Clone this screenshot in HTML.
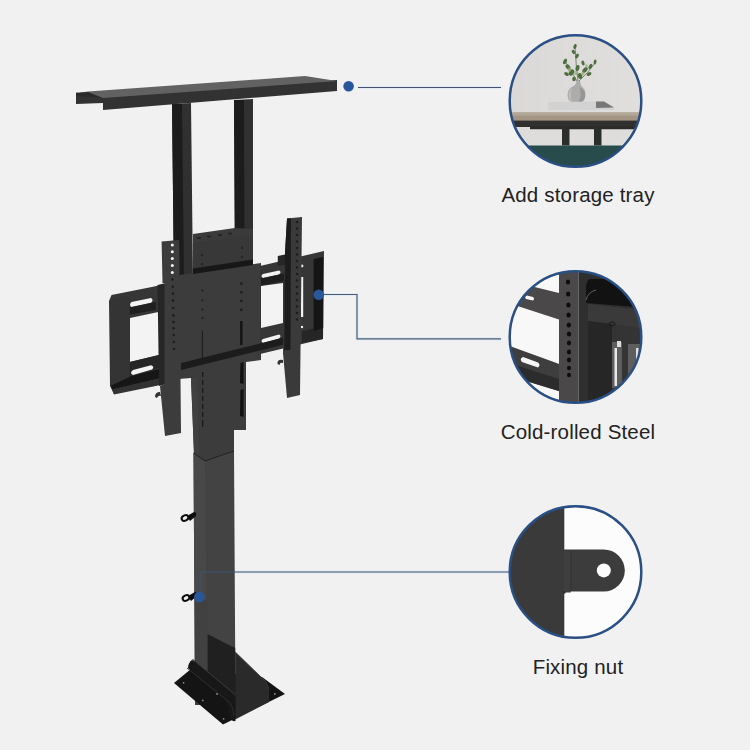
<!DOCTYPE html>
<html><head><meta charset="utf-8">
<style>
html,body{margin:0;padding:0;}
body{width:750px;height:750px;background:#f1f1f1;position:relative;overflow:hidden;font-family:"Liberation Sans",sans-serif;}
svg{position:absolute;left:0;top:0;}
.lbl{position:absolute;left:478px;width:200px;text-align:center;font-size:20.5px;letter-spacing:0.17px;color:#222;white-space:nowrap;}
</style></head><body>
<svg width="750" height="750" viewBox="0 0 750 750">
<defs>
  <clipPath id="c1"><circle cx="575.5" cy="101" r="66"/></clipPath>
  <clipPath id="c2"><circle cx="575.5" cy="337" r="66"/></clipPath>
  <clipPath id="c3"><circle cx="575.5" cy="572" r="66"/></clipPath>
  <linearGradient id="wall" x1="0" y1="0" x2="1" y2="0">
    <stop offset="0" stop-color="#dad9d7"/><stop offset="1" stop-color="#e0dfdd"/>
  </linearGradient>
</defs>

<!-- ============ PRODUCT ============ -->
<g id="product">
  <!-- uprights -->
  <polygon points="172,104 191,103 193,281 174,281" fill="#303030"/>
  <polygon points="172,104 182,104 184,281 174,281" fill="#1c1c1c"/>
  <polygon points="234,100 253,99 253,264 235,264" fill="#303030"/>
  <polygon points="234,100 244,100 244.5,264 235,264" fill="#1c1c1c"/>

  <!-- tray -->
  <polygon points="76,92.5 103,97 337,80 337,91 103,110 103,103 76,104" fill="#323232"/>
  <polygon points="76,93 88,91.5 305,76 337,81 103,98" fill="#626262"/>
  <polygon points="76,93 88,92 103,98 76,96" fill="#2a2a2a"/>

  <!-- motor housing -->
  <polygon points="193,242 253,233 253,263 193,272" fill="#383838"/>
  <polygon points="193,234 235,228 253,229 253,234.5 193,243.5" fill="#3b3b3b"/>
  <g fill="#222">
    <ellipse cx="199" cy="238" rx="2" ry="1"/><ellipse cx="209" cy="236.5" rx="2" ry="1"/>
    <ellipse cx="220" cy="235" rx="2" ry="1"/><ellipse cx="230" cy="233.5" rx="2" ry="1"/>
  </g>
  <g fill="#262626">
    <circle cx="202" cy="255" r="1.2"/><circle cx="202" cy="264" r="1.2"/>
    <circle cx="242" cy="248" r="1.2"/><circle cx="242" cy="257" r="1.2"/>
  </g>

  <!-- central plate -->
  <polygon points="166,277 261,263 261,360 246,362 246,430 234,430 234,462 205,462 194,455 191,378 166,380" fill="#3c3c3c"/>
  <polygon points="193,268.5 253,259.5 253,265 193,274" fill="#171717"/>
  <g fill="#1f1f1f">
    <circle cx="202.4" cy="290.7" r="1.1"/><circle cx="202.4" cy="300.3" r="1.1"/><circle cx="202.4" cy="309.3" r="1.1"/><circle cx="202.4" cy="317.9" r="1.1"/>
    <rect x="201.8" y="331" width="1.2" height="30"/>
    <circle cx="241.3" cy="283.7" r="1.4"/><circle cx="241.3" cy="292.3" r="1.4"/><circle cx="241.3" cy="300.8" r="1.4"/><circle cx="241.3" cy="309.9" r="1.4"/>
    <rect x="240.2" y="321" width="2.3" height="24" fill="#111"/>
  </g>
  <g fill="#1a1a1a">
    <rect x="202" y="372" width="1.3" height="5"/><rect x="202" y="380" width="1.3" height="5"/><rect x="202" y="388" width="1.3" height="5"/>
    <rect x="202" y="396" width="1.3" height="5"/><rect x="202" y="404" width="1.3" height="5"/><rect x="202" y="412" width="1.3" height="5"/>
    <rect x="202" y="420" width="1.3" height="7"/>
    <path d="M240.5,363 L243.5,362 L243.5,384 L240,383 Z" fill="#111"/>
    <path d="M240.5,390 L243.5,389 L243.5,417 L240,416 Z" fill="#111"/>
  </g>
  <polygon points="191,378 197,378 199,455 194,453" fill="#404040"/>

  <!-- left frame -->
  <polygon points="109,301 111.5,295 153,286.7 166,284 166,378 114,394 110,386" fill="#363636"/>
  <polygon points="130,318 163,311 163,354 130,362" fill="#f3f3f3"/>
  <path d="M131.5,302 L151,298 Q154,300 151,302.8 L131.5,307 Q128.5,305 131.5,302 Z" fill="#f3f3f3"/>
  <polygon points="129.6,307.5 156,302 156,310 129.6,314.5" fill="#202020"/>
  <polygon points="129.6,362 163,354 163,367 129.6,375.5" fill="#262626"/>
  <path d="M133,370 L151,365.2 Q155,366.5 152,369.5 L133,375 Q129,373 133,370 Z" fill="#f3f3f3"/>
  <polygon points="110,382 129.6,376.5 163,368 163,377.5 112,389.5" fill="#161616"/>
  <polygon points="112,389.5 163,377.5 163,384.5 114,394.5" fill="#323232"/>
  <polygon points="110,300 129.6,296 129.6,377 110,386" fill="#343434"/>

  <!-- right frame -->
  <polygon points="260,266 324,251 323,339 260,354" fill="#363636"/>
  <polygon points="261,286 283,283 283,323 261,328" fill="#f3f3f3"/>
  <path d="M263,274 L279,270.5 Q282,272 279,274.5 L263,278 Q260,276 263,274 Z" fill="#f3f3f3"/>
  <path d="M263,339 L279,334.5 Q282,336 279,338.5 L263,343 Q260,341 263,339 Z" fill="#f3f3f3"/>
  <polygon points="261,278.5 284,273.5 284,281 261,285.5" fill="#1e1e1e"/>
  
  <polygon points="302,331 323,327 323,339 302,343" fill="#262626"/>
  <polygon points="313.6,259 323.2,257 323.2,328 313.6,331" fill="#151515"/>
  <rect x="301" y="277" width="2.2" height="40" fill="#f3f3f3"/>
  <circle cx="302" cy="266" r="1.4" fill="#f3f3f3"/>
  <circle cx="302" cy="327" r="1.2" fill="#f3f3f3"/>

  <!-- bottom rail across plate -->
  <polygon points="181,363 286,337 286,344 181,370" fill="#1c1c1c"/>

  <!-- left VESA arm -->
  <polygon points="157.5,285 166,283 166,384 159,386" fill="#262626"/>
  <polygon points="161.6,241.4 179.2,240 181,433 165,436 160,386 164.5,384 164.5,283 162.5,283" fill="#3c3c3c"/>
  <path d="M160,392 Q155,392 155,397 L157,398 Q158,395 161,396 Z" fill="#333"/>
  <g fill="#f3f3f3">
    <circle cx="172.3" cy="245" r="1.5"/><circle cx="172.3" cy="251.7" r="1.5"/><circle cx="172.3" cy="258.5" r="1.5"/>
    <circle cx="172.3" cy="265.6" r="1.5"/><circle cx="172.3" cy="272.6" r="1.5"/>
  </g>
  <g fill="#1e1e1e">
    <circle cx="172.5" cy="279.5" r="1.3"/><circle cx="172.8" cy="286.7" r="1.3"/><circle cx="173" cy="293.6" r="1.3"/>
    <circle cx="173" cy="300.5" r="1.3"/><circle cx="173.2" cy="308" r="1.3"/><circle cx="173.3" cy="315.5" r="1.3"/>
    <circle cx="173.5" cy="322" r="1.3"/><circle cx="173.5" cy="328.3" r="1.3"/><circle cx="173.7" cy="335" r="1.2"/>
    <circle cx="173.8" cy="342" r="1.2"/><circle cx="174" cy="349" r="1.2"/>
  </g>

  <!-- right VESA arm -->
  <polygon points="287,218.6 302,217 300,395 287,398 283,353 285,253" fill="#3a3a3a"/>
  <polygon points="287,218.6 291,218.2 290.5,350 284.2,350 285,253" fill="#1c1c1c"/>
  <polygon points="277.8,256 285,254.5 285,265 277.8,266" fill="#262626"/>
  <path d="M283,360 Q277,359 277.5,364 L279.5,365 Q280,362 283,363 Z" fill="#333"/>
  <g fill="#1e1e1e">
    <circle cx="297" cy="222" r="1.3"/><circle cx="297" cy="228.5" r="1.3"/><circle cx="297" cy="235" r="1.3"/>
    <circle cx="297" cy="241.5" r="1.3"/><circle cx="297" cy="248" r="1.3"/><circle cx="297" cy="254.5" r="1.3"/>
    <circle cx="297" cy="261" r="1.3"/><circle cx="297" cy="267.5" r="1.3"/><circle cx="297" cy="274" r="1.3"/>
    <circle cx="297" cy="280.5" r="1.3"/><circle cx="297" cy="287" r="1.3"/><circle cx="297" cy="293.5" r="1.3"/>
    <circle cx="297" cy="300" r="1.3"/><circle cx="297" cy="306.5" r="1.3"/><circle cx="297" cy="313" r="1.3"/>
    <circle cx="297" cy="319.5" r="1.3"/>
  </g>

  <!-- lower post -->
  <polygon points="193.5,453 205,461 234,451 235.5,705 195,705" fill="#434343"/>
  <polygon points="193.5,453 205,461 207.5,705 195,705" fill="#484848"/>
  <polyline points="193.5,453 205,461 234,451" fill="none" stroke="#222" stroke-width="1"/>
  <polygon points="195,600 207,600 207.6,705 195,705" fill="#3e3e3e" opacity="0.6"/>

  <!-- base -->
  <polygon points="174,683 191,669 262,677 285,694 223,724.5" fill="#141414"/>
  <polygon points="235.2,652 266,682 269,689 269,702 235.2,719.6" fill="#2a2a2a"/>
  <polyline points="235.2,652 266,682 269,689" fill="none" stroke="#383838" stroke-width="1"/>
  <polygon points="207.6,634 221,641 235.2,648 235.2,697 207.6,672" fill="#202020"/>
  <path d="M188,668 Q188,662 193,660 L235.5,695 L235.5,721 Q231,722 229,716 L228,708 Q226,700 220,696 Z" fill="#181818"/>
  <polyline points="190,662 193,659.5 235.5,695" fill="none" stroke="#3a3a3a" stroke-width="1"/>
  <path d="M187,668 L229,702 Q233,706 234,716" fill="none" stroke="#2e2e2e" stroke-width="1"/>
  <g fill="#8a8a8a">
    <circle cx="183.6" cy="682.8" r="0.9"/><circle cx="202.8" cy="700.4" r="0.9"/><circle cx="217" cy="694" r="0.9"/>
    <circle cx="223.6" cy="718.8" r="0.9"/><circle cx="274.8" cy="694" r="0.9"/>
  </g>

  <!-- fixing nuts -->
  <g fill="none" stroke="#0d0d0d" stroke-width="2">
    <ellipse cx="185" cy="518" rx="3.5" ry="2.6" transform="rotate(-25 185 518)"/>
    <ellipse cx="186" cy="598" rx="3.5" ry="2.6" transform="rotate(-25 186 598)"/>
  </g>
  <path d="M187,516 L194,512 Q197,512 196,516 L190,521 Z" fill="#0d0d0d"/>
  <path d="M188,596 L195,592 Q198,592 197,596 L191,601 Z" fill="#0d0d0d"/>
</g>

<!-- ============ CALLOUT LINES ============ -->
<g fill="none" stroke-width="3.2" stroke="#e2eaf5">
  <polyline points="358,87.5 501,87.5"/>
  <polyline points="324,294.5 357,294.5 357,338.8 501,338.8"/>
  <polyline points="509,572 235,572"/>
</g>
<g fill="none" stroke-width="1.2">
  <polyline points="358,87.5 501,87.5" stroke="#45546c"/>
  <polyline points="324,294.5 357,294.5 357,338.8 501,338.8" stroke="#475b73"/>
  <polyline points="201,592 201,572 509,572" stroke="#3a5473"/>
</g>
<g fill="#2a579a">
  <circle cx="348.6" cy="86.3" r="5.3"/>
  <circle cx="318.7" cy="294.7" r="5.3"/>
  <circle cx="199.3" cy="596.9" r="5.3"/>
</g>

<!-- ============ CIRCLE 1 ============ -->
<g clip-path="url(#c1)">
  <rect x="505" y="30" width="145" height="145" fill="url(#wall)"/>
  <!-- plant -->
  <g stroke="#50683f" stroke-width="0.7" fill="none">
    <path d="M578,82 Q576,66 575,46"/>
    <path d="M577,81 Q571,71 565,61"/>
    <path d="M579,81 Q588,73 596,62"/>
  </g>
  <g fill="#4f6e40">
    <ellipse cx="575" cy="46.5" rx="1.6" ry="2.6" transform="rotate(20 575 46.5)"/>
    <ellipse cx="573.5" cy="52" rx="1.5" ry="2.3" transform="rotate(-30 573.5 52)"/>
    <ellipse cx="577" cy="56" rx="1.6" ry="2.5" transform="rotate(30 577 56)"/>
    <ellipse cx="565" cy="61.5" rx="1.7" ry="3" transform="rotate(25 565 61.5)"/>
    <ellipse cx="568" cy="67" rx="2" ry="3" transform="rotate(-40 568 67)"/>
    <ellipse cx="571.5" cy="72.5" rx="2.4" ry="3.4" transform="rotate(30 571.5 72.5)"/>
    <ellipse cx="566.5" cy="74" rx="1.6" ry="2.6" transform="rotate(-60 566.5 74)"/>
    <ellipse cx="577.5" cy="68" rx="2" ry="3" transform="rotate(10 577.5 68)"/>
    <ellipse cx="580" cy="76" rx="2.2" ry="3" transform="rotate(-20 580 76)"/>
    <ellipse cx="585" cy="70" rx="2" ry="3.4" transform="rotate(40 585 70)"/>
    <ellipse cx="589" cy="74" rx="1.7" ry="2.6" transform="rotate(60 589 74)"/>
    <ellipse cx="590.5" cy="66.5" rx="1.7" ry="2.8" transform="rotate(30 590.5 66.5)"/>
    <ellipse cx="595" cy="62" rx="1.4" ry="2.6" transform="rotate(10 595 62)"/>
    <ellipse cx="574" cy="79" rx="1.8" ry="2.2"/>
    <ellipse cx="583" cy="63" rx="1.5" ry="2.5" transform="rotate(-20 583 63)"/>
  </g>
  <g fill="#93ab78" opacity="0.75">
    <ellipse cx="569.5" cy="69.5" rx="1.8" ry="2.2"/>
    <ellipse cx="576" cy="73" rx="1.8" ry="2.2"/>
    <ellipse cx="583" cy="73.5" rx="1.5" ry="1.9"/>
    <ellipse cx="586.5" cy="66" rx="1.3" ry="1.8"/>
  </g>
  <!-- vase -->
  <path d="M576.3,81 L580.2,81 Q580,85 582.5,87 Q586,90 585.2,96 Q584.5,102.7 578,102.8 L574.5,102.8 Q568,102.5 567.6,96 Q567.3,90 571.5,87 Q576.5,85 576.3,81 Z" fill="#acacac"/>
  <path d="M579,87 Q586,90 585.2,96 Q584.5,102.7 578,102.8 Q583,95 579,87 Z" fill="#959595"/>
  <path d="M572,88 Q568.5,91 568.5,96 Q569,101 572,102 Q570,95 572,88 Z" fill="#bcbcbc"/>
  <!-- books -->
  <polygon points="548,102 604,101.5 614,107.5 614,110 548,110" fill="#d2d2d2"/>
  <polygon points="596,101.5 604,101.5 614,107.5 596,108" fill="#777"/>
  <!-- table -->
  <rect x="500" y="112.5" width="150" height="8.5" fill="#a39684"/>
  <rect x="500" y="112.5" width="150" height="3" fill="#b3a898"/>
  <rect x="500" y="120.6" width="150" height="6.4" fill="#30312e"/>
  <rect x="530" y="126.5" width="120" height="3" fill="#2a2b28"/>
  <rect x="500" y="127" width="30" height="18.5" fill="#dedddb"/>
  <rect x="530" y="129.5" width="120" height="16" fill="#dedddb"/>
  <rect x="562" y="127" width="7.5" height="18.5" fill="#2c2e2c"/>
  <rect x="594" y="127" width="7.5" height="18.5" fill="#2c2e2c"/>
  <rect x="500" y="145.5" width="150" height="30" fill="#284b4b"/>
</g>
<circle cx="575.5" cy="101" r="65.8" fill="none" stroke="#2a4f84" stroke-width="2.5"/>

<!-- ============ CIRCLE 2 ============ -->
<g clip-path="url(#c2)">
  <rect x="505" y="265" width="145" height="145" fill="#f8f8f8"/>
  <polygon points="500,278.4 559,293 559,319.5 500,300.2" fill="#4a4848"/>
  <path d="M527,295.5 L533,297 Q535,299 533,300.5 L526,299 Q524,297 527,295.5 Z" fill="#f8f8f8"/>
  <polygon points="500,342.4 562,365 562,392 500,373" fill="#3e3e3e"/>
  <polygon points="500,360 562,380 562,392 500,373" fill="#2c2c2c"/>
  <path d="M523,357 L538,362.5 Q541,365 538,367.5 L522,362 Q519,359 523,357 Z" fill="#f8f8f8"/>

  <rect x="559" y="265" width="19.5" height="145" fill="#4a4848"/>
  <rect x="578.5" y="265" width="75" height="145" fill="#2f2f2f"/>
  <path d="M590,279 Q586,281 586,288 L586,303 L650,308 L650,279 Z" fill="#121212"/>
  <path d="M586,300 Q588,292 596,290" fill="none" stroke="#777" stroke-width="0.8"/>
  <polygon points="588,304 650,311 650,330 588,321" fill="#3a3a3a"/>
  <polygon points="588,321 612,324 612,410 588,410" fill="#262626"/>
  <polygon points="612,324 650,330 650,410 612,410" fill="#343434"/>
  <rect x="612" y="342" width="10" height="46" fill="#5e5e5e"/>
  <rect x="614.5" y="348" width="2.5" height="38" fill="#e8e8e8"/>
  <rect x="628" y="344" width="12" height="32" fill="#5e5e5e"/>
  <rect x="636" y="348" width="2.5" height="26" fill="#e0e0e0"/>
  <rect x="617" y="341" width="4" height="6" fill="#dcdcdc"/>
  <ellipse cx="612" cy="324" rx="3" ry="2" fill="none" stroke="#1a1a1a" stroke-width="1"/>
  <g fill="#0e0e0e">
    <ellipse cx="568" cy="282" rx="2.2" ry="2.6"/>
    <ellipse cx="568.2" cy="294" rx="2.2" ry="2.6"/>
    <ellipse cx="568.4" cy="305" rx="2.2" ry="2.6"/>
    <ellipse cx="568.6" cy="315" rx="2.2" ry="2.6"/>
    <ellipse cx="568.8" cy="325" rx="2.2" ry="2.6"/>
    <ellipse cx="569" cy="334" rx="2.2" ry="2.6"/>
    <ellipse cx="569" cy="343" rx="2.1" ry="2.4"/>
    <ellipse cx="569" cy="352" rx="2.1" ry="2.4"/>
    <ellipse cx="569" cy="360" rx="2.1" ry="2.4"/>
    <ellipse cx="569" cy="368" rx="2" ry="2.3"/>
    <ellipse cx="569" cy="375" rx="2" ry="2.3"/>
  </g>
</g>
<circle cx="575.5" cy="337" r="65.8" fill="none" stroke="#2a4f84" stroke-width="2.5"/>

<!-- ============ CIRCLE 3 ============ -->
<g clip-path="url(#c3)">
  <rect x="505" y="500" width="145" height="145" fill="#fcfcfc"/>
  <rect x="500" y="500" width="64.3" height="145" fill="#3b3a3a"/>
  <path d="M564,549.5 H603.8 A21,21 0 0 1 603.8,591.5 H564 Z" fill="#3d3c3c"/>
  <rect x="564" y="551" width="6.8" height="41.5" fill="#403f3f"/>
  <rect x="570.5" y="551" width="0.8" height="40" fill="#303030"/>
  <rect x="563.5" y="591" width="2" height="2.5" fill="#2a2a2a"/>
  <circle cx="603.8" cy="570.4" r="7" fill="#fcfcfc"/>
</g>
<circle cx="575.5" cy="572" r="65.8" fill="none" stroke="#2a4f84" stroke-width="2.5"/>
</svg>

<div class="lbl" style="top:182.5px;">Add storage tray</div>
<div class="lbl" style="top:419.5px;">Cold-rolled Steel</div>
<div class="lbl" style="top:655px;">Fixing nut</div>
</body></html>
